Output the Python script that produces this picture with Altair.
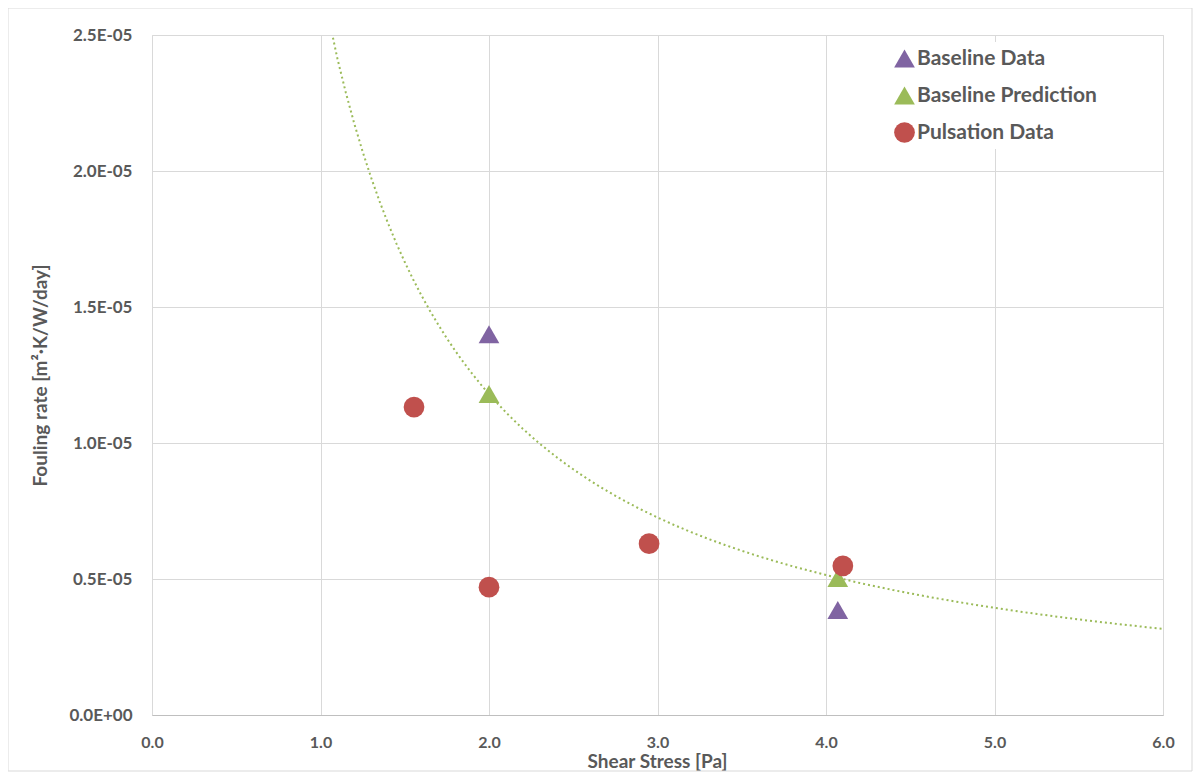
import altair as alt
import pandas as pd

# Data
series_names = ["Baseline Data", "Baseline Prediction", "Pulsation Data"]
series_colors = ["#8064A2", "#9BBB59", "#C0504D"]
series_shapes = ["triangle-up", "triangle-up", "circle"]
series_sizes = [430, 430, 390]

baseline_x = [2.0, 4.07]
baseline_y = [1.40e-5, 3.86e-6]
prediction_x = [2.0, 4.07]
prediction_y = [1.18e-5, 5.04e-6]
pulsation_x = [1.555, 2.0, 2.95, 4.10]
pulsation_y = [1.132e-5, 4.7e-6, 6.3e-6, 5.48e-6]

x_ticks = [0, 1, 2, 3, 4, 5, 6]
y_ticks = [0, 5e-6, 1e-5, 1.5e-5, 2e-5, 2.5e-5]

rows = []
for name, xs, ys in [
    (series_names[0], baseline_x, baseline_y),
    (series_names[1], prediction_x, prediction_y),
    (series_names[2], pulsation_x, pulsation_y),
]:
    for xv, yv in zip(xs, ys):
        rows.append({"x": xv, "y": yv, "series": name})
df = pd.DataFrame(rows)

FONT = "Lato"
GRAY = "#595959"

x_scale = alt.Scale(domain=[0, 6], nice=False, zero=False)
y_scale = alt.Scale(domain=[0, 2.5e-5], nice=False)

x_axis = alt.Axis(
    values=x_ticks, format=".1f", grid=True, gridColor="#d9d9d9", ticks=False, tickSize=0,
    domain=True, domainColor="#bfbfbf", labelFont=FONT, labelFontSize=16, labelFontWeight="bold",
    labelColor=GRAY, labelPadding=19, labelFlush=False, title="Shear Stress [Pa]", titleFont=FONT,
    titleFontSize=19, titleFontWeight="bold", titleColor=GRAY, titleX=505, titleY=52,
    titleBaseline="alphabetic",
)
y_axis = alt.Axis(
    values=y_ticks, grid=True, gridColor="#d9d9d9", ticks=False, tickSize=0, domain=False,
    labelExpr="datum.value == 0 ? '0.0E+00' : format(datum.value * 1e5, '.1f') + 'E-05'",
    labelFont=FONT, labelFontSize=17, labelFontWeight="bold", labelColor=GRAY, labelPadding=20,
    labelFlush=False,
    title="Fouling rate [m²·K/W/day]", titleFont=FONT, titleFontSize=19, titleFontWeight="bold",
    titleColor=GRAY, titleX=-112, titleY=340, titleAngle=270, titleAlign="center",
    titleBaseline="middle",
)

legend_cfg = dict(
    title=None, orient="none", legendX=736, legendY=7, labelFont=FONT,
    labelFontSize=21, labelFontWeight="bold", labelColor=GRAY, symbolSize=260,
    rowPadding=15, fillColor="white", padding=6, symbolStrokeWidth=0, labelOffset=2,
    labelLimit=400,
)

base = alt.Chart(df)

curve = base.transform_filter(
    alt.datum.series == "Baseline Prediction"
).transform_regression(
    "x", "y", method="pow", extent=[1.0, 6.0]
).mark_line(
    color="#9BBB59", strokeWidth=2, strokeDash=[2, 3], clip=True
).encode(
    x=alt.X("x:Q", scale=x_scale, axis=x_axis),
    y=alt.Y("y:Q", scale=y_scale, axis=y_axis),
)

points = base.mark_point(filled=True, opacity=1).encode(
    x=alt.X("x:Q", scale=x_scale),
    y=alt.Y("y:Q", scale=y_scale),
    color=alt.Color(
        "series:N",
        scale=alt.Scale(domain=series_names, range=series_colors),
        legend=alt.Legend(**legend_cfg),
    ),
    shape=alt.Shape(
        "series:N",
        scale=alt.Scale(domain=series_names, range=series_shapes),
        legend=alt.Legend(**legend_cfg),
    ),
    size=alt.Size(
        "series:N",
        scale=alt.Scale(domain=series_names, range=series_sizes),
        legend=None,
    ),
)

frame = alt.Chart(pd.DataFrame({"k": [0]})).mark_rect(
    fill="transparent", stroke="#d9d9d9", strokeWidth=1, clip=False
).encode(
    x=alt.value(-144), x2=alt.value(1040), y=alt.value(-27), y2=alt.value(736)
)

chart = alt.layer(frame, curve, points).properties(
    width=1011, height=680,
    autosize=alt.AutoSizeParams(type="none"),
    padding={"left": 144, "top": 27, "right": 30, "bottom": 57},
).configure_view(stroke=None).configure(background="white")

chart.save("out.html", embed_options={"renderer": "svg", "actions": False})
